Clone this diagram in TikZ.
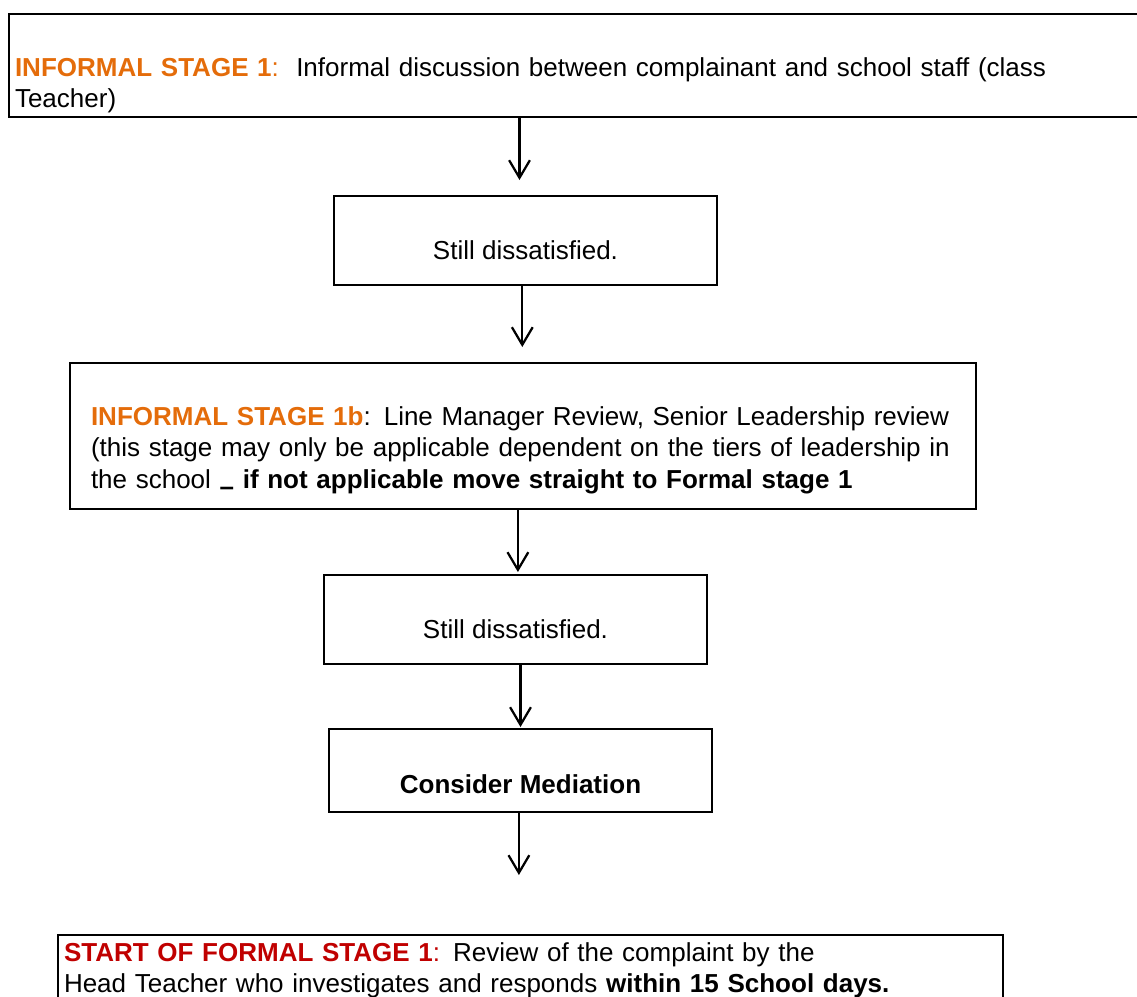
\documentclass[tikz,border=0pt]{standalone}
\usepackage{fontspec}
\setmainfont{Liberation Sans}
\usepackage{tikz}
\usetikzlibrary{arrows.meta}
\definecolor{informal}{HTML}{E46C0A}
\definecolor{formal}{HTML}{C00000}

\begin{document}
\begin{tikzpicture}[every node/.style={font=\fontsize{18.5}{22.7}\selectfont, inner ysep=0pt, outer sep=0pt},
  box/.style={draw, line width=1.3pt},
  flow/.style={line width=1.6pt, -{Straight Barb[length=0.44cm, width=0.52cm]}}]
\useasboundingbox (0,0) rectangle (28.425,-24.9);
\clip (0,0) rectangle (28.425,-24.9);

\node[box, line width=2pt, anchor=north west, align=left, text width=28.225cm, inner xsep=0.15cm, text height=1.55cm, text depth=1.025cm] (stageone) at (0.225,-0.35) {\textcolor{informal}{\textbf{INFORMAL STAGE 1}:}\ \ Informal discussion between complainant and school staff (class\\Teacher)};
\node[box, anchor=north, minimum width=9.575cm, text height=1.575cm, text depth=0.65cm] (stilla) at (13.1375,-4.9) {Still dissatisfied.};
\node[box, anchor=north west, align=left, text width=21.6cm, inner xsep=0.525cm, text height=1.55cm, text depth=2.1cm] (reviewb) at (1.75,-9.075) {\textcolor{informal}{\textbf{INFORMAL STAGE 1b}}: Line Manager Review, Senior Leadership review\\(this stage may only be applicable dependent on the tiers of leadership in\\the school \raisebox{-0.25em}{\bfseries\textendash} \textbf{if not applicable move straight to Formal stage 1}};
\node[box, anchor=north, minimum width=9.575cm, text height=1.575cm, text depth=0.65cm] (stillb) at (12.8875,-14.375) {Still dissatisfied.};
\node[box, anchor=north, minimum width=9.575cm, text height=1.6cm, text depth=0.475cm] (mediation) at (13.0125,-18.225) {\textbf{Consider Mediation}};
\node[box, anchor=north west, align=left, text width=23.325cm, inner xsep=0.15cm, text height=0.65cm, text depth=2cm] (formalone) at (1.45,-23.375) {\textcolor{formal}{\textbf{START OF FORMAL STAGE 1}:} Review of the complaint by the\\Head Teacher who investigates and responds \textbf{within 15 School days.}};

\draw[flow, shorten >=0.4cm] ([xshift=-0.15cm]stageone.south -| stilla.north) -- ([xshift=-0.15cm]stilla.north);
\draw[flow, shorten >=0.4cm] ([xshift=-0.08cm]stilla.south) -- ([xshift=-0.08cm]reviewb.north -| stilla.south);
\draw[flow, shorten >=0.075cm] ([xshift=0.06cm]reviewb.south -| stillb.north) -- ([xshift=0.06cm]stillb.north);
\draw[flow, shorten >=0.05cm] (stillb.south -| mediation.north) -- (mediation.north);
\draw[flow, shorten >=1.5cm] ([xshift=-0.04cm]mediation.south) -- ([xshift=-0.04cm]formalone.north -| mediation.south);
\end{tikzpicture}
\end{document}
